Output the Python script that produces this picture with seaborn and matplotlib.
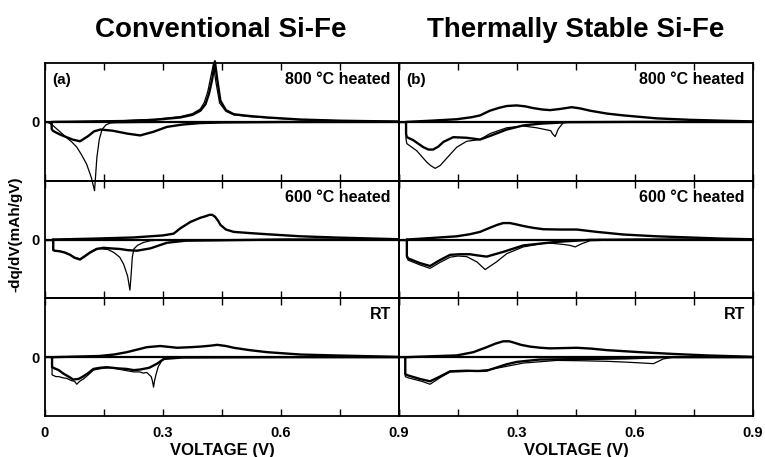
import numpy as np
import pandas as pd
import seaborn as sns
import matplotlib
matplotlib.use('agg')
import matplotlib.pyplot as plt

# dq/dV curves: voltage (V) and normalised -dq/dV
# (zero line at the panel middle, +-1 = panel edge)

# (a) conventional Si-Fe, 800 C heated
a800_chg_v = [0.02, 0.10, 0.20, 0.28, 0.344, 0.375, 0.395, 0.408, 0.417, 0.425, 0.432, 0.438, 0.446, 0.46, 0.48, 0.52, 0.565, 0.65, 0.75, 0.90]
a800_chg_y = [0.0, 0.005, 0.015, 0.035, 0.075, 0.12, 0.19, 0.30, 0.48, 0.72, 1.03, 0.72, 0.36, 0.20, 0.13, 0.10, 0.075, 0.04, 0.02, 0.005]
a800_chg1_v = [0.02, 0.10, 0.20, 0.28, 0.344, 0.375, 0.395, 0.405, 0.414, 0.422, 0.428, 0.435, 0.444, 0.46, 0.48, 0.52, 0.565, 0.65, 0.75, 0.90]
a800_chg1_y = [0.0, 0.008, 0.02, 0.045, 0.09, 0.14, 0.22, 0.33, 0.52, 0.78, 0.98, 0.66, 0.32, 0.18, 0.12, 0.09, 0.07, 0.035, 0.018, 0.004]
a800_dis_v = [0.90, 0.60, 0.45, 0.395, 0.35, 0.31, 0.275, 0.242, 0.21, 0.172, 0.141, 0.125, 0.11, 0.089, 0.07, 0.055, 0.04, 0.028, 0.02, 0.017, 0.017]
a800_dis_y = [0.0, -0.002, -0.01, -0.02, -0.045, -0.085, -0.17, -0.23, -0.2, -0.15, -0.13, -0.16, -0.24, -0.33, -0.3, -0.26, -0.22, -0.18, -0.15, -0.12, 0.0]
a800_dis1_v = [0.90, 0.60, 0.40, 0.25, 0.18, 0.166, 0.155, 0.145, 0.138, 0.132, 0.126, 0.118, 0.106, 0.093, 0.081, 0.068, 0.055, 0.042, 0.030, 0.020, 0.011, 0.005]
a800_dis1_y = [0.0, 0.0, -0.005, -0.01, -0.015, -0.02, -0.05, -0.13, -0.3, -0.6, -1.17, -0.95, -0.72, -0.56, -0.43, -0.34, -0.27, -0.19, -0.12, -0.06, -0.02, 0.0]

# (b) thermally stable Si-Fe, 800 C heated
b800_chg_v = [0.02, 0.08, 0.147, 0.185, 0.206, 0.231, 0.255, 0.274, 0.299, 0.32, 0.341, 0.365, 0.384, 0.41, 0.439, 0.46, 0.486, 0.53, 0.571, 0.655, 0.74, 0.824, 0.90]
b800_chg_y = [0.0, 0.02, 0.045, 0.08, 0.11, 0.19, 0.24, 0.27, 0.28, 0.265, 0.235, 0.21, 0.2, 0.22, 0.25, 0.23, 0.19, 0.14, 0.11, 0.06, 0.035, 0.02, 0.008]
b800_dis_v = [0.90, 0.60, 0.43, 0.36, 0.316, 0.274, 0.231, 0.206, 0.172, 0.138, 0.113, 0.10, 0.087, 0.075, 0.062, 0.036, 0.02, 0.018, 0.018]
b800_dis_y = [0.0, 0.0, -0.005, -0.03, -0.06, -0.13, -0.24, -0.3, -0.27, -0.26, -0.34, -0.42, -0.47, -0.47, -0.43, -0.31, -0.26, -0.2, 0.0]
b800_dis1_v = [0.90, 0.60, 0.45, 0.418, 0.405, 0.397, 0.39, 0.386, 0.35, 0.316, 0.274, 0.231, 0.206, 0.172, 0.147, 0.121, 0.105, 0.092, 0.08, 0.07, 0.045, 0.02, 0.018, 0.018]
b800_dis1_y = [0.0, 0.0, -0.005, -0.01, -0.12, -0.25, -0.2, -0.15, -0.1, -0.07, -0.1, -0.2, -0.3, -0.33, -0.43, -0.62, -0.74, -0.79, -0.74, -0.68, -0.49, -0.37, -0.3, 0.0]

# (a) 600 C heated
a600_chg_v = [0.02, 0.12, 0.225, 0.30, 0.327, 0.344, 0.37, 0.395, 0.41, 0.418, 0.425, 0.432, 0.44, 0.446, 0.46, 0.48, 0.52, 0.565, 0.65, 0.735, 0.90]
a600_chg_y = [0.0, 0.015, 0.035, 0.07, 0.1, 0.19, 0.3, 0.37, 0.4, 0.42, 0.42, 0.39, 0.32, 0.25, 0.17, 0.13, 0.11, 0.09, 0.055, 0.035, 0.005]
a600_dis_v = [0.90, 0.60, 0.357, 0.31, 0.268, 0.234, 0.21, 0.19, 0.166, 0.149, 0.132, 0.115, 0.098, 0.089, 0.075, 0.064, 0.05, 0.038, 0.025, 0.021, 0.021]
a600_dis_y = [0.0, 0.0, -0.02, -0.055, -0.15, -0.19, -0.18, -0.16, -0.15, -0.14, -0.16, -0.22, -0.3, -0.34, -0.31, -0.26, -0.22, -0.2, -0.19, -0.18, 0.0]
a600_dis1_v = [0.90, 0.60, 0.35, 0.29, 0.268, 0.25, 0.235, 0.226, 0.222, 0.219, 0.216, 0.21, 0.20, 0.19, 0.175, 0.16, 0.132, 0.115, 0.098, 0.089, 0.075, 0.064, 0.05, 0.038, 0.023, 0.021, 0.021]
a600_dis1_y = [0.0, 0.0, -0.005, -0.01, -0.02, -0.05, -0.1, -0.16, -0.3, -0.6, -0.86, -0.62, -0.42, -0.3, -0.22, -0.17, -0.15, -0.21, -0.29, -0.33, -0.3, -0.26, -0.22, -0.2, -0.19, -0.15, 0.0]

# (b) 600 C heated
b600_chg_v = [0.02, 0.08, 0.147, 0.18, 0.206, 0.231, 0.25, 0.265, 0.282, 0.30, 0.316, 0.34, 0.367, 0.41, 0.452, 0.503, 0.571, 0.655, 0.74, 0.824, 0.90]
b600_chg_y = [0.0, 0.025, 0.055, 0.09, 0.13, 0.2, 0.25, 0.28, 0.28, 0.255, 0.23, 0.2, 0.175, 0.17, 0.17, 0.13, 0.085, 0.055, 0.035, 0.015, 0.005]
b600_dis_v = [0.90, 0.60, 0.486, 0.40, 0.316, 0.265, 0.223, 0.20, 0.18, 0.155, 0.13, 0.104, 0.079, 0.053, 0.023, 0.02, 0.02]
b600_dis_y = [0.0, 0.0, -0.005, -0.04, -0.1, -0.21, -0.29, -0.27, -0.25, -0.25, -0.26, -0.35, -0.45, -0.4, -0.32, -0.28, 0.0]
b600_dis1_v = [0.90, 0.60, 0.486, 0.465, 0.448, 0.435, 0.42, 0.376, 0.316, 0.274, 0.248, 0.219, 0.198, 0.172, 0.15, 0.13, 0.104, 0.079, 0.053, 0.023, 0.02, 0.02]
b600_dis1_y = [0.0, 0.0, -0.02, -0.07, -0.125, -0.1, -0.085, -0.055, -0.125, -0.24, -0.38, -0.51, -0.38, -0.29, -0.28, -0.3, -0.39, -0.49, -0.43, -0.35, -0.3, 0.0]

# (a) room temperature
aRT_chg_v = [0.02, 0.138, 0.175, 0.208, 0.235, 0.259, 0.293, 0.336, 0.37, 0.395, 0.42, 0.438, 0.46, 0.48, 0.52, 0.565, 0.65, 0.735, 0.90]
aRT_chg_y = [0.0, 0.02, 0.045, 0.085, 0.13, 0.17, 0.19, 0.16, 0.17, 0.18, 0.195, 0.21, 0.19, 0.16, 0.12, 0.085, 0.045, 0.03, 0.005]
aRT_dis_v = [0.90, 0.60, 0.35, 0.302, 0.285, 0.265, 0.242, 0.225, 0.208, 0.185, 0.157, 0.14, 0.123, 0.11, 0.094, 0.085, 0.072, 0.06, 0.047, 0.035, 0.021, 0.018, 0.018]
aRT_dis_y = [0.0, 0.0, -0.005, -0.03, -0.11, -0.18, -0.21, -0.22, -0.2, -0.19, -0.17, -0.18, -0.2, -0.27, -0.34, -0.37, -0.38, -0.33, -0.28, -0.22, -0.18, -0.17, 0.0]
aRT_dis1_v = [0.90, 0.60, 0.35, 0.31, 0.297, 0.288, 0.282, 0.278, 0.276, 0.273, 0.27, 0.265, 0.259, 0.25, 0.24, 0.225, 0.20, 0.185, 0.166, 0.145, 0.123, 0.11, 0.098, 0.09, 0.085, 0.081, 0.075, 0.068, 0.055, 0.045, 0.035, 0.028, 0.021, 0.018, 0.018]
aRT_dis1_y = [0.0, 0.0, -0.005, -0.01, -0.06, -0.16, -0.3, -0.42, -0.51, -0.4, -0.33, -0.3, -0.26, -0.27, -0.25, -0.25, -0.22, -0.2, -0.18, -0.19, -0.22, -0.3, -0.37, -0.4, -0.43, -0.46, -0.41, -0.4, -0.36, -0.35, -0.33, -0.33, -0.31, -0.3, 0.0]

# (b) room temperature
bRT_chg_v = [0.02, 0.08, 0.147, 0.189, 0.223, 0.245, 0.265, 0.28, 0.291, 0.31, 0.333, 0.36, 0.384, 0.42, 0.452, 0.49, 0.528, 0.613, 0.697, 0.782, 0.883, 0.90]
bRT_chg_y = [0.0, 0.015, 0.03, 0.085, 0.17, 0.23, 0.27, 0.27, 0.25, 0.21, 0.18, 0.16, 0.15, 0.155, 0.16, 0.145, 0.12, 0.085, 0.055, 0.03, 0.01, 0.005]
bRT_dis_v = [0.90, 0.672, 0.58, 0.486, 0.358, 0.30, 0.274, 0.223, 0.20, 0.172, 0.13, 0.104, 0.079, 0.053, 0.023, 0.016, 0.016]
bRT_dis_y = [0.0, 0.0, -0.02, -0.03, -0.04, -0.08, -0.12, -0.23, -0.235, -0.23, -0.24, -0.33, -0.41, -0.37, -0.31, -0.29, 0.0]
bRT_dis1_v = [0.90, 0.75, 0.697, 0.672, 0.647, 0.621, 0.58, 0.528, 0.46, 0.401, 0.316, 0.27, 0.231, 0.189, 0.16, 0.13, 0.104, 0.079, 0.058, 0.023, 0.016, 0.016]
bRT_dis1_y = [0.0, 0.0, 0.0, -0.03, -0.11, -0.1, -0.085, -0.07, -0.06, -0.055, -0.1, -0.16, -0.21, -0.24, -0.245, -0.25, -0.35, -0.46, -0.41, -0.35, -0.33, 0.0]

col_titles = ['Conventional Si-Fe', 'Thermally Stable Si-Fe']
row_labels = ['800 °C heated', '600 °C heated', 'RT']
panel_tags = ['(a)', '(b)']
tick_vals = [0, 0.15, 0.3, 0.45, 0.6, 0.75, 0.9]
left_ticklabels = ['0', '', '0.3', '', '0.6', '', '0.9']
right_ticklabels = ['', '', '0.3', '', '0.6', '', '0.9']

THICK = 1.7
THIN = 0.9

curves = {
    (0, 0): [(a800_chg_v, a800_chg_y, THICK), (a800_chg1_v, a800_chg1_y, THIN),
             (a800_dis_v, a800_dis_y, THICK), (a800_dis1_v, a800_dis1_y, THIN)],
    (0, 1): [(b800_chg_v, b800_chg_y, THICK), (b800_dis_v, b800_dis_y, THICK),
             (b800_dis1_v, b800_dis1_y, THIN)],
    (1, 0): [(a600_chg_v, a600_chg_y, THICK), (a600_dis_v, a600_dis_y, THICK),
             (a600_dis1_v, a600_dis1_y, THIN)],
    (1, 1): [(b600_chg_v, b600_chg_y, THICK), (b600_dis_v, b600_dis_y, THICK),
             (b600_dis1_v, b600_dis1_y, THIN)],
    (2, 0): [(aRT_chg_v, aRT_chg_y, THICK), (aRT_dis_v, aRT_dis_y, THICK),
             (aRT_dis1_v, aRT_dis1_y, THIN)],
    (2, 1): [(bRT_chg_v, bRT_chg_y, THICK), (bRT_dis_v, bRT_dis_y, THICK),
             (bRT_dis1_v, bRT_dis1_y, THIN)],
}

sns.set_style('white')
plt.rcParams['font.family'] = ['Liberation Sans', 'DejaVu Sans']
plt.rcParams['font.weight'] = 'bold'
plt.rcParams['text.color'] = 'black'
plt.rcParams['axes.labelcolor'] = 'black'
plt.rcParams['xtick.color'] = 'black'
plt.rcParams['ytick.color'] = 'black'

fig, axes = plt.subplots(3, 2, figsize=(7.65, 4.57), dpi=100)
fig.subplots_adjust(left=0.0588, right=0.9843, top=0.862, bottom=0.0897, wspace=0, hspace=0)

for (r, c), lines in curves.items():
    ax = axes[r, c]
    ax.set_facecolor('none')
    ax.axhline(0, color='black', lw=1.6, zorder=1)
    for v, y, lw in lines:
        sns.lineplot(x=v, y=y, ax=ax, sort=False, estimator=None, color='black',
                     linewidth=lw, clip_on=False)
    ax.set_xlim(0, 0.9)
    ax.set_ylim(-1, 1)
    ax.set_xticks(tick_vals)
    if r == 2:
        ax.set_xticklabels(left_ticklabels if c == 0 else right_ticklabels)
        ax.set_xlabel('VOLTAGE (V)', fontsize=12, fontweight='bold', labelpad=2)
    else:
        ax.set_xticklabels([])
    ax.set_yticks([0])
    ax.set_yticklabels(['0'] if c == 0 else [])
    ax.tick_params(axis='x', direction='in', top=True, bottom=True, length=5, width=1,
                   labelsize=10.5, pad=7, colors='black')
    ax.tick_params(axis='y', direction='in', left=True, right=False, length=5, width=1,
                   labelsize=10.5, pad=4, colors='black')
    for s in ax.spines.values():
        s.set_linewidth(1.3)
        s.set_color('black')
    ax.text(0.977, 0.86, row_labels[r], transform=ax.transAxes, ha='right', va='center',
            fontsize=11.5, fontweight='bold', color='black')
    if r == 0:
        ax.text(0.02, 0.86, panel_tags[c], transform=ax.transAxes, ha='left', va='center',
                fontsize=11, fontweight='bold', color='black')

# upper panels drawn on top so the peaks running past the frame stay visible
for r in range(3):
    for c in range(2):
        axes[r, c].set_zorder(3 - r)

fig.text(0.289, 0.934, col_titles[0], ha='center', va='center', fontsize=20,
         fontweight='bold', color='black')
fig.text(0.753, 0.934, col_titles[1], ha='center', va='center', fontsize=20,
         fontweight='bold', color='black')
fig.text(0.0196, 0.488, '-dq/dV(mAh/gV)', rotation=90, ha='center', va='center',
         fontsize=11, fontweight='bold', color='black')

fig.savefig('out.png', dpi=100)
